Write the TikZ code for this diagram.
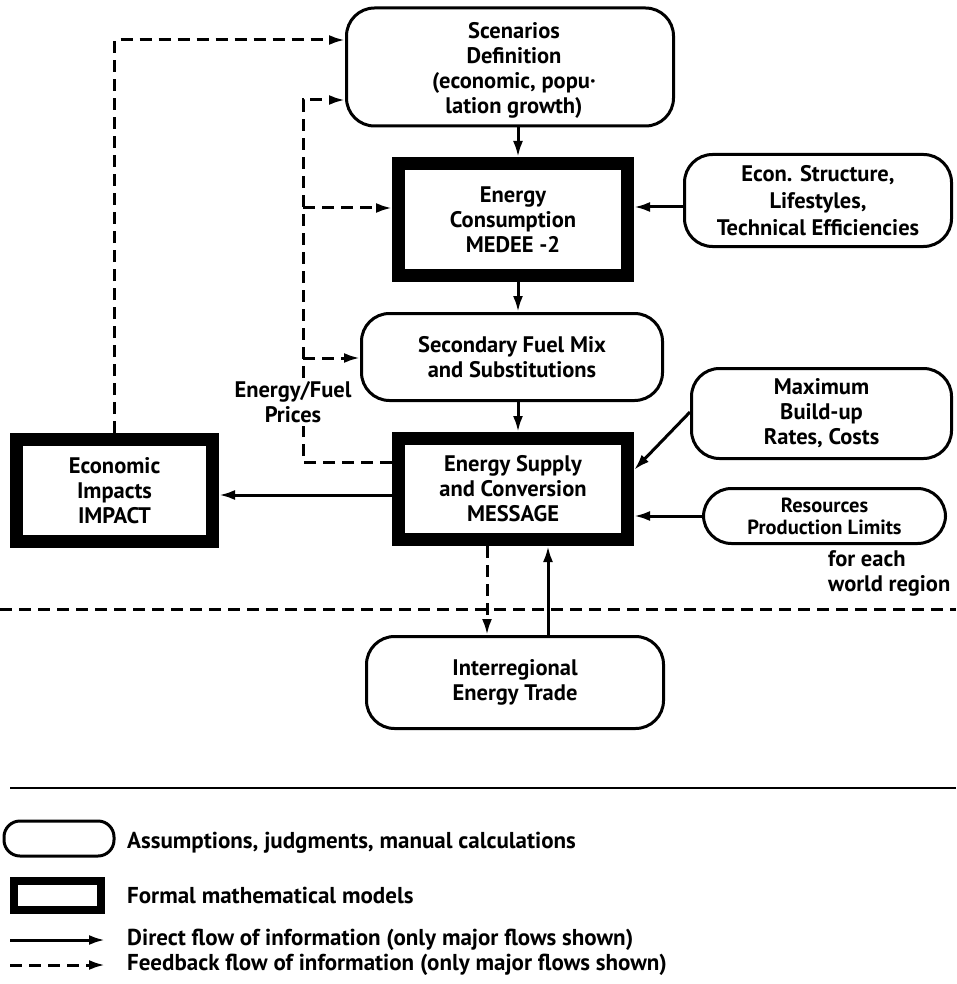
\documentclass[tikz,border=0pt]{standalone}
\usepackage{fontspec}
\setmainfont{PT Sans}
\usetikzlibrary{arrows.meta}
\begin{document}
\begin{tikzpicture}[x=1pt,y=-1pt,
  txt/.style={font=\bfseries\fontsize{22.5}{25}\selectfont, align=center},
  assum/.style={txt, draw, line width=3pt, rounded corners=28pt, inner sep=0pt},
  model/.style={txt, draw, line width=13pt, inner sep=0pt},
  arr/.style={line width=3pt, -{Latex[length=16pt,width=10pt]}},
  fb/.style={arr, dash pattern=on 12pt off 7pt},
  fbline/.style={line width=3pt, dash pattern=on 12pt off 7pt}
]
\useasboundingbox (0,0) rectangle (956,984);

% region separator
\coordinate (sepl) at (0,609);
\coordinate (sepr) at (956,609);
\draw[fbline] (sepl) -- (sepr);

% nodes
\node[assum, minimum width=327pt, minimum height=118pt] (scen) at (510,67) {};
\node[txt] (scentxt) at (514,70)
  {Scenarios\\Definition\\(economic, popu·\\lation growth)};
\node[model, minimum width=229pt, minimum height=112pt] (cons) at (513,219.5)
  {Energy\\Consumption\\MEDEE -2};
\node[assum, minimum width=267pt, minimum height=92pt, font=\bfseries\fontsize{22.5}{27}\selectfont] (econ) at (818,200.5)
  {Econ. Structure,\\Lifestyles,\\Technical Efficiencies};
\node[assum, minimum width=301pt, minimum height=87pt] (sec) at (512,357)
  {Secondary Fuel Mix\\and Substitutions};
\node[model, minimum width=229pt, minimum height=101pt] (supply) at (513,489)
  {Energy Supply\\and Conversion\\MESSAGE};
\node[model, minimum width=196pt, minimum height=102pt] (impact) at (114.5,490.5)
  {Economic\\Impacts\\IMPACT};
\node[assum, minimum width=260pt, minimum height=90pt] (maxb) at (821.5,413.5)
  {Maximum\\Build-up\\Rates, Costs};
\node[assum, minimum width=242pt, minimum height=55pt, font=\bfseries\fontsize{20.5}{22}\selectfont] (res) at (824.5,516)
  {Resources\\Production Limits};
\node[assum, minimum width=297pt, minimum height=92pt] (inter) at (515,682.5)
  {Interregional\\Energy Trade};

\node[txt] (prices) at (293,402) {Energy/Fuel\\Prices};
\node[txt, align=left, anchor=north west, inner sep=0pt] (region) at (828,550) {for each\\world region};

% main column
\coordinate (colx) at (518,0);
\draw[arr] (scen.south -| colx) -- (cons.north -| colx);
\draw[arr] (cons.south -| colx) -- (sec.north -| colx);
\draw[arr] (sec.south -| colx) -- (supply.north -| colx);

% inputs from the right
\coordinate (ey) at (0,207);
\draw[arr] (econ.west |- ey) -- (cons.east |- ey);
\coordinate (my1) at (0,412);
\coordinate (my2) at (0,470);
\draw[arr] (maxb.west |- my1) -- (supply.east |- my2);
\draw[arr] (res.west) -- (supply.east |- res.west);

% supply to impact
\coordinate (iy) at (0,495);
\draw[arr] (supply.west |- iy) -- (impact.east |- iy);

% feedback energy/fuel prices
\coordinate (fx) at (303,0);
\coordinate (fy0) at (0,462);
\coordinate (fy1) at (0,100);
\coordinate (fy2) at (0,208);
\coordinate (fy3) at (0,358);
\draw[fbline] (supply.west |- fy0) -| (prices.south -| fx);
\draw[fb] (prices.north -| fx) |- (scen.west |- fy1);
\draw[fb] (fx |- fy2) -- (cons.west |- fy2);
\draw[fb] (fx |- fy3) -- (sec.west |- fy3);

% feedback from impacts
\coordinate (ty) at (0,40);
\draw[fb] (impact.north) |- (scen.west |- ty);

% interregional trade
\coordinate (dx) at (487,0);
\coordinate (ux) at (548,0);
\draw[fb] (supply.south -| dx) -- (inter.north -| dx);
\draw[arr] (inter.north -| ux) -- (supply.south -| ux);

% legend
\coordinate (ll) at (10,788);
\coordinate (lr) at (956,788);
\draw[line width=2.5pt] (ll) -- (lr);
\node[assum, rounded corners=16pt, minimum width=110pt, minimum height=35pt] (lg1) at (59,838.5) {};
\node[model, line width=8pt, minimum width=87pt, minimum height=29pt] (lg2) at (57.5,895.5) {};
\coordinate (lg3a) at (10,940);
\coordinate (lg3b) at (105,940);
\coordinate (lg4a) at (10,965);
\coordinate (lg4b) at (105,965);
\draw[arr] (lg3a) -- (lg3b);
\draw[fb] (lg4a) -- (lg4b);
\begin{scope}[every node/.style={txt, anchor=west, inner sep=0pt, font=\bfseries\fontsize{23}{25}\selectfont}]
\node (t1) at (127,843) {Assumptions, judgments, manual calculations};
\node (t2) at (127,895) {Formal mathematical models};
\node (t3) at (127,940) {Direct flow of information (only major flows shown)};
\node (t4) at (127,965) {Feedback flow of information (only major flows shown)};
\end{scope}
\end{tikzpicture}
\end{document}
